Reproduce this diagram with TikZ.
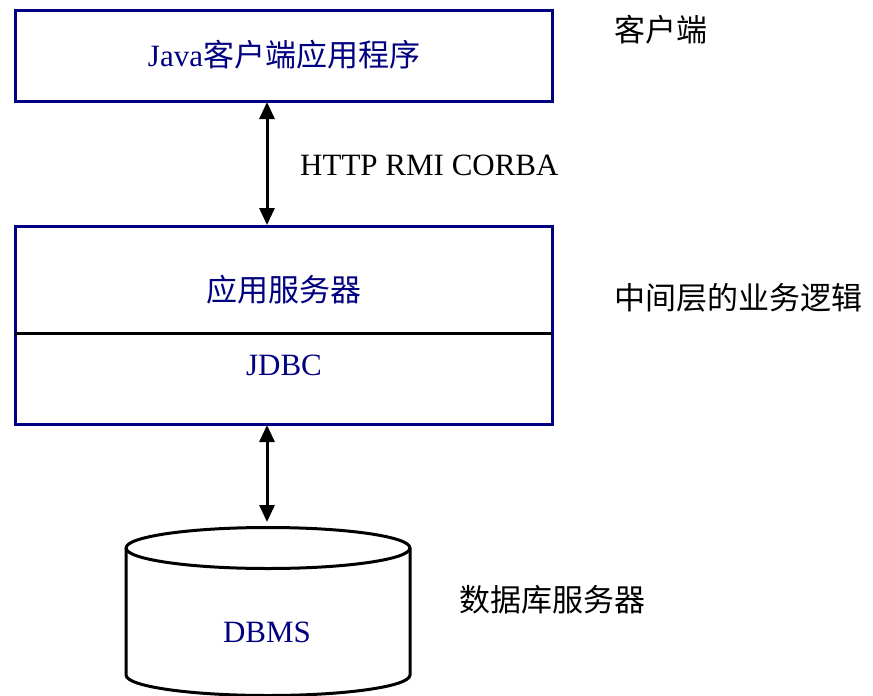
\documentclass[tikz,border=0pt]{standalone}
\usepackage{fontspec}
\setmainfont{Liberation Serif}
\newfontfamily\cjk{Noto Sans CJK SC}
\usetikzlibrary{arrows.meta}
\definecolor{navy}{RGB}{0,0,128}
\tikzset{
  box/.style={draw=navy, line width=3pt, minimum width=537pt, inner sep=0pt},
  navytext/.style={text=navy, font=\fontsize{31}{37}\selectfont},
  blacktext/.style={text=black, font=\fontsize{31}{37}\selectfont},
  arr/.style={line width=3pt, {Triangle[width=15pt,length=17pt]}-{Triangle[width=15pt,length=17pt]}},
  dbline/.style={draw=black, line width=3pt, fill=white}
}
\begin{document}
\begin{tikzpicture}[x=1pt,y=-1pt]
\useasboundingbox (0,0) rectangle (873,696);
\fill[white] (0,0) rectangle (873,696);
% client box
\node[box, minimum height=91pt] (client) at (283.5,55.5) {};
\node[navytext] (clienttxt) at (284,55) {Java{\cjk 客户端应用程序}};
% app server box
\node[box, minimum height=198pt] (server) at (283.5,325) {};
\coordinate (divl) at (15,333);
\coordinate (divr) at (552,333);
\draw[line width=3pt] (divl) -- (divr);
\node[navytext] (apptxt) at (284,290) {\cjk 应用服务器};
\node[navytext] (jdbc) at (284,365) {JDBC};
% database cylinder
\coordinate (dbtop) at (267,526);
\path[dbline] (126,548) -- (126,675) arc[start angle=180, end angle=0, x radius=142, y radius=20.5] -- (410,548) arc[start angle=0, end angle=-180, x radius=142, y radius=20.5] -- cycle;
\draw[line width=3pt] (126,548) arc[start angle=180, end angle=0, x radius=142, y radius=20.5];
\node[navytext] (dbms) at (267,632) {DBMS};
% arrows
\coordinate (a1top) at (267,102);
\coordinate (a1bot) at (267,225);
\draw[arr] (a1top) -- (a1bot);
\coordinate (a2top) at (267,425);
\coordinate (a2bot) at (267,522);
\draw[arr] (a2top) -- (a2bot);
% labels
\node[blacktext, anchor=west, inner sep=0pt] (proto) at (300,165) {HTTP RMI CORBA};
\node[blacktext, anchor=west, inner sep=0pt] (clientlbl) at (614,30) {\cjk 客户端};
\node[blacktext, anchor=west, inner sep=0pt] (midlbl) at (614,298) {\cjk 中间层的业务逻辑};
\node[blacktext, anchor=west, inner sep=0pt] (dblbl) at (459,600) {\cjk 数据库服务器};
\end{tikzpicture}
\end{document}
